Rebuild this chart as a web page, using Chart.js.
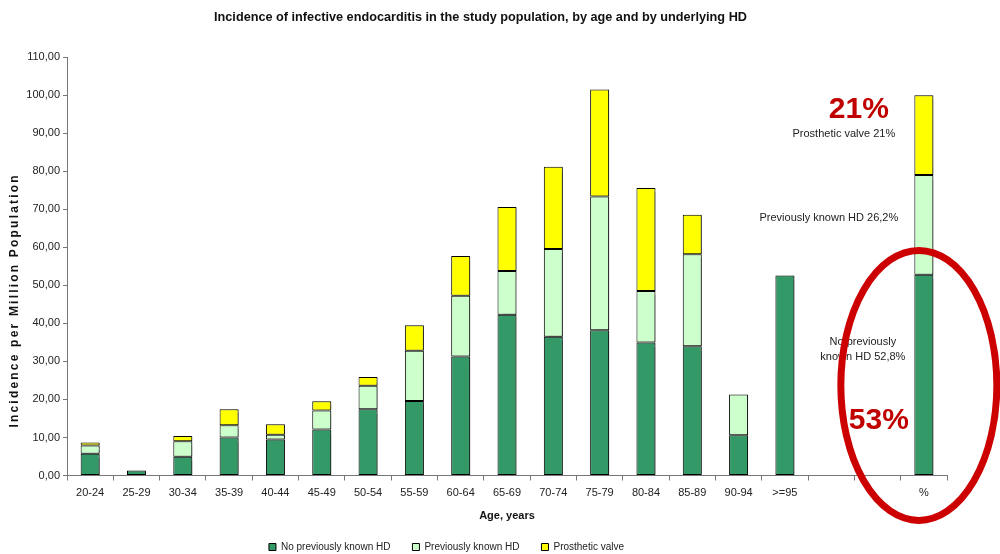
<!DOCTYPE html>
<html>
<head>
<meta charset="utf-8">
<script src="https://cdn.jsdelivr.net/npm/chart.js@4/dist/chart.umd.min.js"></script>
<style>
  html, body { margin: 0; padding: 0; background: #fff; }
  #wrap { width: 1000px; height: 554px; position: relative; }
</style>
</head>
<body>
<div id="wrap"><canvas id="c" width="1000" height="554"></canvas></div>
<script>
// Age groups (two empty slots separate the age groups from the overall % bar)
const categories = ['20-24','25-29','30-34','35-39','40-44','45-49','50-54','55-59','60-64',
  '65-69','70-74','75-79','80-84','85-89','90-94','>=95','','','%'];

// Incidence per million population, by underlying heart disease (segment heights)
const noKnownHD     = [5.7, 1.3, 4.9, 10.0, 9.5, 12.1, 17.4, 19.6, 31.3, 42.3, 36.5, 38.2, 35.0, 34.0, 10.6, 52.6, null, null, 52.8];
const knownHD       = [2.2, null, 4.1, 3.2, 1.2, 5.0, 6.2, 13.2, 16.0, 11.5, 23.1, 35.2, 13.5, 24.2, 10.7, null, null, null, 26.2];
const prostheticVal = [0.8, null, 1.4, 4.2, 2.8, 2.4, 2.3, 6.7, 10.4, 16.8, 21.6, 28.1, 27.1, 10.4, null, null, null, null, 21.0];

const legendNames = ['No previously known HD', 'Previously known HD', 'Prosthetic valve'];
const yTicks = { min: 0, max: 110, step: 10 };
const yTitle = 'Incidence per Million Population';

const FONT = "'Liberation Sans', Arial, sans-serif";

// Callouts beside the % bar, plus the spaced-out vertical axis title
const overlay = {
  id: 'overlay',
  afterDatasetsDraw(chart) {
    const { ctx, scales, chartArea } = chart;
    const x = scales.x, y = scales.y;
    const xp = x.getPixelForValue(categories.length - 1);
    ctx.save();
    ctx.textAlign = 'center';
    ctx.textBaseline = 'middle';
    ctx.fillStyle = '#222';
    ctx.font = '11px ' + FONT;
    ctx.fillText('Prosthetic valve 21%', xp - 80, y.getPixelForValue(89.7));
    ctx.fillText('Previously known HD 26,2%', xp - 95, y.getPixelForValue(67.6));
    ctx.fillText('No previously', xp - 61, y.getPixelForValue(35.1));
    ctx.fillText('known HD 52,8%', xp - 61, y.getPixelForValue(31.1));
    ctx.fillStyle = '#c00000';
    ctx.font = 'bold 30px ' + FONT;
    ctx.fillText('21%', xp - 65, y.getPixelForValue(96.3));
    ctx.fillText('53%', xp - 45, y.getPixelForValue(14.4));
    // ring around the 53% segment
    ctx.beginPath();
    ctx.ellipse(xp - 5, y.getPixelForValue(23.7), 78, 135, 0, 0, Math.PI * 2);
    ctx.lineWidth = 7;
    ctx.strokeStyle = '#cc0000';
    ctx.stroke();
    ctx.restore();

    // vertical axis title
    ctx.save();
    ctx.translate(15, (chartArea.top + chartArea.bottom) / 2 + 34);
    ctx.rotate(-Math.PI / 2);
    ctx.font = 'bold 12px ' + FONT;
    ctx.letterSpacing = '2.2px';
    ctx.textAlign = 'center';
    ctx.textBaseline = 'middle';
    ctx.fillStyle = '#111';
    ctx.fillText(yTitle, 0, 0);
    ctx.restore();
  }
};

// soft drop shadow under the bars
const barShadow = {
  id: 'barShadow',
  beforeDatasetsDraw(chart) {
    const ctx = chart.ctx;
    ctx.save();
    ctx.shadowColor = 'rgba(0,0,0,0.4)';
    ctx.shadowOffsetX = 1.5;
    ctx.shadowOffsetY = 1;
    ctx.shadowBlur = 1;
  },
  afterDatasetsDraw(chart) {
    chart.ctx.restore();
  }
};

// nudge the legend row left and the title right
const boxShift = {
  id: 'boxShift',
  afterLayout(chart) {
    const l = chart.legend;
    l.left -= 27; l.right -= 27;
    const t = chart.titleBlock;
    if (t) { t.left += 7; t.right += 7; }
  }
};

const mk = (label, data, color) => ({
  label, data,
  backgroundColor: color,
  borderColor: '#000',
  borderWidth: 1,
  borderSkipped: false,
  categoryPercentage: 1,
  barPercentage: 0.41
});

new Chart(document.getElementById('c'), {
  type: 'bar',
  data: {
    labels: categories,
    datasets: [
      mk(legendNames[0], noKnownHD, '#339966'),
      mk(legendNames[1], knownHD, '#ccffcc'),
      mk(legendNames[2], prostheticVal, '#ffff00')
    ]
  },
  options: {
    responsive: false,
    animation: false,
    devicePixelRatio: 1,
    layout: { padding: { left: 0, right: 53, top: 0, bottom: -8 } },
    plugins: {
      title: {
        display: true,
        text: 'Incidence of infective endocarditis in the study population, by age and by underlying HD',
        color: '#111',
        font: { family: FONT, size: 12.7, weight: 'bold' },
        padding: { top: 10, bottom: 32 }
      },
      legend: {
        position: 'bottom',
        labels: {
          color: '#222',
          font: { family: FONT, size: 10 },
          boxWidth: 7,
          boxHeight: 7,
          padding: 22
        }
      },
      tooltip: { enabled: false }
    },
    scales: {
      x: {
        stacked: true,
        afterFit(s) { s.height = 44.5; },
        grid: { offset: true, drawOnChartArea: false, drawTicks: true, tickLength: 5, color: '#777' },
        border: { display: true, color: '#777' },
        ticks: { color: '#222', font: { family: FONT, size: 11 }, maxRotation: 0, autoSkip: false, padding: 6 },
        title: { display: true, text: 'Age, years', color: '#111', font: { family: FONT, size: 11, weight: 'bold' }, padding: { top: 0, bottom: -3 } }
      },
      y: {
        stacked: true,
        min: yTicks.min,
        max: yTicks.max,
        afterFit(s) { s.width = 67; },
        grid: { drawOnChartArea: false, drawTicks: true, tickLength: 4, color: '#777' },
        border: { display: true, color: '#777' },
        ticks: {
          stepSize: yTicks.step,
          color: '#222',
          font: { family: FONT, size: 11 },
          padding: 3,
          callback: v => v.toFixed(2).replace('.', ',')
        },
        title: { display: false, text: yTitle }
      }
    }
  },
  plugins: [barShadow, overlay, boxShift]
});
</script>
</body>
</html>
